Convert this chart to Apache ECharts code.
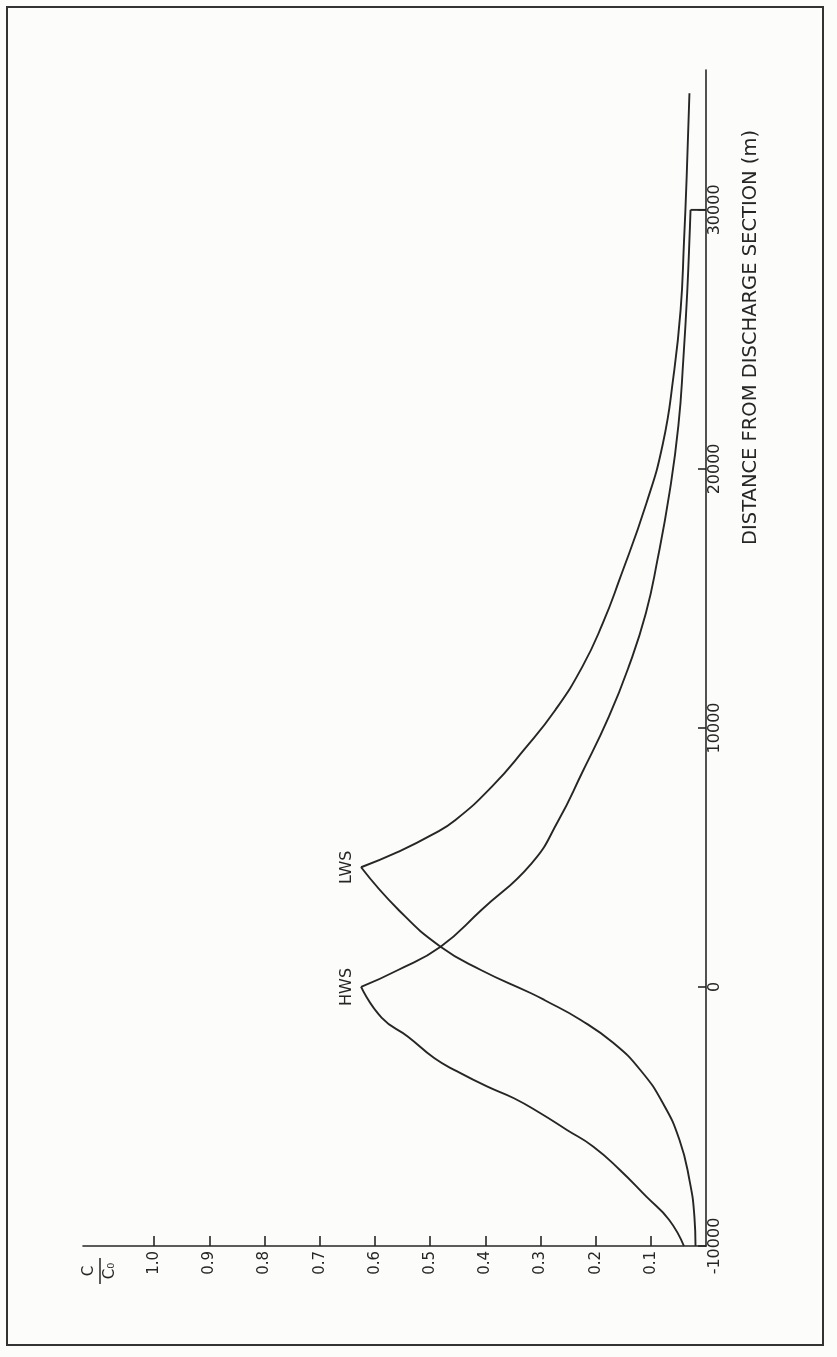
<!DOCTYPE html>
<html>
<head>
<meta charset="utf-8">
<script src="https://cdn.jsdelivr.net/npm/echarts@6/dist/echarts.min.js"></script>
<style>
html,body{margin:0;padding:0;background:#fcfcfa;}
#chart{width:837px;height:1357px;}
</style>
</head>
<body>
<div id="chart"></div>
<script>
// Distance from discharge section (m) and relative concentration C/C0
var hwsLowerD = [-10000, -8985, -8097, -7066, -6166, -5521, -4876, -4297, -3849, -3269, -2754, -1918, -1180, 0];
var hwsLowerC = [0.040, 0.067, 0.108, 0.156, 0.204, 0.252, 0.300, 0.348, 0.396, 0.450, 0.492, 0.540, 0.588, 0.625];
var hwsUpperD = [0, 656, 1556, 2973, 4775, 6448, 8251, 10436, 12367, 14429, 16486, 19103, 21678, 24253, 26828, 29402, 30000];
var hwsUpperC = [0.625, 0.558, 0.481, 0.407, 0.316, 0.267, 0.225, 0.176, 0.140, 0.109, 0.088, 0.066, 0.050, 0.041, 0.034, 0.029, 0.028];
var hwsStepD = [30000, 30000];
var hwsStepC = [0.028, 0];
var lwsLowerD = [-10000, -8868, -7452, -5907, -4490, -3205, -2174, -1274, -502, -243, 656, 1556, 2973, 4622];
var lwsLowerC = [0.019, 0.021, 0.030, 0.048, 0.078, 0.119, 0.167, 0.227, 0.293, 0.317, 0.408, 0.481, 0.557, 0.625];
var lwsUpperD = [4622, 5224, 5870, 6448, 7734, 9151, 10695, 12367, 14043, 15714, 18676, 20992, 23565, 26139, 28714, 31286, 34500];
var lwsUpperC = [0.625, 0.557, 0.497, 0.454, 0.388, 0.330, 0.273, 0.224, 0.187, 0.157, 0.108, 0.078, 0.059, 0.046, 0.040, 0.035, 0.030];
var cTicks = [0.1, 0.2, 0.3, 0.4, 0.5, 0.6, 0.7, 0.8, 0.9, 1.0];
var dTicks = [-10000, 0, 10000, 20000, 30000];
var peakLabels = ['HWS', 'LWS'];

var FONT = "'DejaVu Sans', sans-serif";
var INK = '#262626';

function pairs(cArr, dArr) {
  return cArr.map(function (c, i) { return [c, dArr[i]]; });
}

function lineSeries(cArr, dArr, smooth) {
  return {
    type: 'line', data: pairs(cArr, dArr), smooth: smooth,
    symbol: 'none', showSymbol: false, silent: true,
    lineStyle: { color: INK, width: 1.9 }
  };
}

var peaks = [
  { name: peakLabels[0], value: [hwsUpperC[0], hwsUpperD[0]] },
  { name: peakLabels[1], value: [lwsUpperC[0], lwsUpperD[0]] }
];

var chart = echarts.init(document.getElementById('chart'), null, { renderer: 'canvas' });
chart.setOption({
  animation: false,
  backgroundColor: '#fcfcfa',
  grid: { left: 83, right: 131, top: 70, bottom: 111, containLabel: false },
  xAxis: {
    type: 'value', inverse: true, min: 0, max: 1.129,
    splitLine: { show: false },
    axisLine: { show: true, onZero: false, lineStyle: { color: INK, width: 1.6 } },
    axisTick: { show: true, inside: true, length: 10, customValues: cTicks, lineStyle: { color: INK, width: 1.6 } },
    axisLabel: {
      show: true, customValues: cTicks, rotate: 90, margin: 5,
      formatter: function (v) { return v.toFixed(1); },
      color: INK, fontFamily: FONT, fontSize: 15
    }
  },
  yAxis: {
    type: 'value', position: 'right', min: -10000, max: 35400,
    splitLine: { show: false },
    axisLine: { show: true, onZero: false, lineStyle: { color: INK, width: 1.6 } },
    axisTick: { show: true, inside: true, length: 8, customValues: dTicks, lineStyle: { color: INK, width: 1.6 } },
    axisLabel: {
      show: true, customValues: dTicks, rotate: 90, margin: 1,
      formatter: function (v) { return String(v); },
      color: INK, fontFamily: FONT, fontSize: 16
    },
    name: 'DISTANCE FROM DISCHARGE SECTION (m)',
    nameLocation: 'middle', nameGap: 35,
    nameTextStyle: { color: INK, fontFamily: FONT, fontSize: 19.5, padding: [0, 0, 0, 641] }
  },
  series: [
    lineSeries(hwsLowerC, hwsLowerD, 0.5),
    lineSeries(hwsUpperC, hwsUpperD, 0.5),
    lineSeries(hwsStepC, hwsStepD, false),
    lineSeries(lwsLowerC, lwsLowerD, 0.5),
    lineSeries(lwsUpperC, lwsUpperD, 0.5),
    {
      type: 'scatter', data: peaks, symbolSize: 1, silent: true,
      itemStyle: { color: INK, opacity: 1 },
      label: {
        show: true, formatter: '{b}', position: 'left', distance: 6,
        rotate: 90, align: 'center', verticalAlign: 'bottom',
        color: INK, opacity: 1, fontFamily: FONT, fontSize: 16
      }
    }
  ],
  graphic: [
    {
      type: 'rect', silent: true,
      shape: { x: 7, y: 7, width: 816, height: 1338 },
      style: { fill: 'none', stroke: '#333', lineWidth: 2 }
    },
    {
      type: 'group', x: 100, y: 1271, rotation: Math.PI / 2, silent: true,
      children: [
        { type: 'text', style: { text: 'C', x: 0, y: -3, align: 'center', verticalAlign: 'bottom', fill: INK, font: '15px ' + FONT } },
        { type: 'line', shape: { x1: -13, y1: 0, x2: 13, y2: 0 }, style: { stroke: INK, lineWidth: 1.5 } },
        { type: 'text', style: { text: 'C\u2080', x: 0, y: 3, align: 'center', verticalAlign: 'top', fill: INK, font: '15px ' + FONT } }
      ]
    }
  ]
});
</script>
</body>
</html>
